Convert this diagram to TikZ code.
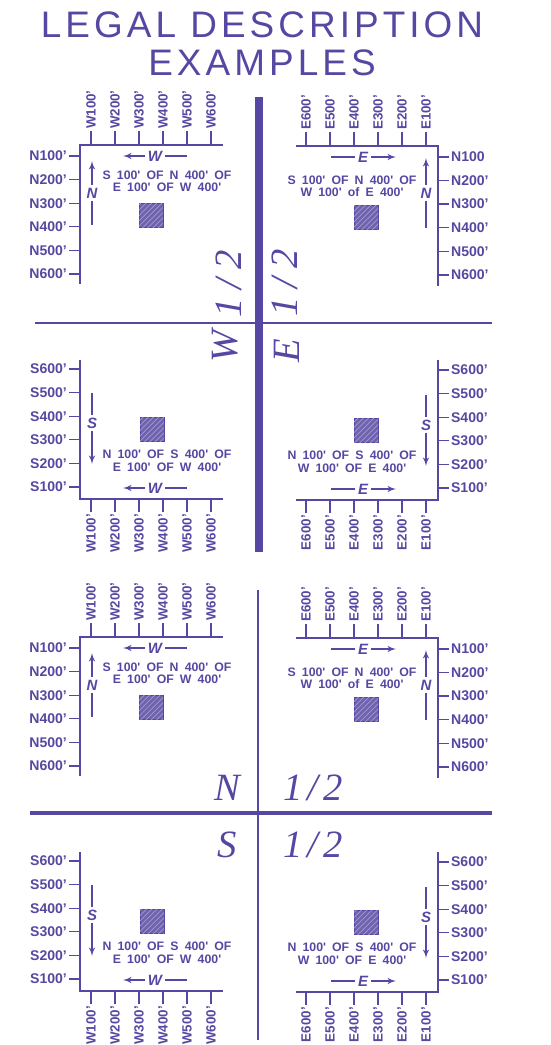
\documentclass[tikz,border=0pt]{standalone}
\usepackage{fontspec}
\setmainfont{Liberation Sans}
\newfontfamily\serifit{Liberation Serif}
\newfontfamily\descfont[WordSpace=1.8]{Liberation Sans}
\newfontfamily\headfont[LetterSpace=11]{Liberation Sans}
\usetikzlibrary{arrows,patterns}
\definecolor{ink}{RGB}{86,72,162}
\tikzset{
    axis/.style = {draw=ink, line width=1pt},
    tick/.style = {draw=ink, line width=0.7pt},
    pointer/.style = {draw=ink, line width=0.7pt, ->, >=latex'},
    uplabel/.style = {
        text=ink,
        font=\bfseries\fontsize{7.6}{7.6}\selectfont,
        rotate=90,
        anchor=west,
        inner sep=1pt,
    },
    downlabel/.style = {uplabel, anchor=east},
    leftlabel/.style = {
        text=ink,
        font=\bfseries\fontsize{8}{8}\selectfont,
        anchor=east,
        inner sep=1pt,
    },
    rightlabel/.style = {leftlabel, anchor=west},
    dirletter/.style = {text=ink, font=\bfseries\itshape\fontsize{8.5}{8.5}\selectfont, inner sep=1.5pt},
    desc/.style = {text=ink, font=\descfont\bfseries\fontsize{7}{7}\selectfont, inner sep=0pt},
    parcel/.style = {
        draw=ink,
        fill=ink!85,
        minimum size=0.48cm,
        inner sep=0pt,
        postaction={pattern=north east lines, pattern color=ink!55},
    },
    half/.style = {text=ink, font=\serifit\itshape\fontsize{22}{22}\selectfont, inner sep=0pt},
    heading/.style = {text=ink, font=\headfont\fontsize{21}{21}\selectfont, inner sep=0pt}
}

\begin{document}
\begin{tikzpicture}[x=0.02cm, y=-0.02cm]
  \useasboundingbox (0,0) rectangle (551,1045);

  % Title
  \node[heading] (title1) at (262,25) {LEGAL DESCRIPTION};
  \node[heading] (title2) at (262,63) {EXAMPLES};

  % The same four corner plats, once above (W/E) and once below (N/S)
  \foreach \h/\dy/\p in {u/0/{}, l/492/'} {
  \begin{scope}[shift={(0,\dy)}]

    % North-west plat
    \coordinate (\h-nw) at (80,145);
    \coordinate (\h-nwr) at (223,145);
    \coordinate (\h-nwb) at (80,284);
    \draw[axis] (\h-nwr) -- (\h-nw) -- (\h-nwb);
    \foreach \n in {1,...,6} {
      \coordinate (\h-nwt\n) at ({67+24*\n},145);
      \node[uplabel] (\h-nwl\n) at ({67+24*\n},131) {W\n00'};
      \draw[tick] (\h-nwt\n) -- (\h-nwl\n);
      \coordinate (\h-nwy\n) at (80,{132.4+23.6*\n});
      \node[leftlabel] (\h-nwm\n) at (69,{132.4+23.6*\n}) {N\n00'};
      \draw[tick] (\h-nwy\n) -- (\h-nwm\n);
    }
    \node[dirletter] (\h-nwW) at (155,156) {W};
    \coordinate (\h-nwWl) at (123,156);
    \coordinate (\h-nwWr) at (187,156);
    \draw[pointer] (\h-nwW) -- (\h-nwWl);
    \draw[tick] (\h-nwW) -- (\h-nwWr);
    \node[dirletter] (\h-nwN) at (92,193) {N};
    \coordinate (\h-nwNt) at (92,161);
    \coordinate (\h-nwNb) at (92,225);
    \draw[pointer] (\h-nwN) -- (\h-nwNt);
    \draw[tick] (\h-nwN) -- (\h-nwNb);
    \node[desc] (\h-nwd1) at (167,175) {S 100' OF N 400' OF};
    \node[desc] (\h-nwd2) at (167,187) {E 100' OF W 400'};
    \node[parcel] (\h-nwp) at (151,215) {};

    % North-east plat
    \coordinate (\h-ne) at (438,146);
    \coordinate (\h-nel) at (296,146);
    \coordinate (\h-neb) at (438,286);
    \draw[axis] (\h-nel) -- (\h-ne) -- (\h-neb);
    \foreach \n in {1,...,6} {
      \coordinate (\h-net\n) at ({450-24*\n},146);
      \node[uplabel] (\h-nelab\n) at ({450-24*\n},132) {E\n00'};
      \draw[tick] (\h-net\n) -- (\h-nelab\n);
      \coordinate (\h-ney\n) at (438,{133.3+23.6*\n});
      \node[rightlabel] (\h-nem\n) at (449,{133.3+23.6*\n}) {N\n00\ifnum\n=1 \p\else'\fi};
      \draw[tick] (\h-ney\n) -- (\h-nem\n);
    }
    \node[dirletter] (\h-neE) at (363,157) {E};
    \coordinate (\h-neEl) at (331,157);
    \coordinate (\h-neEr) at (396,157);
    \draw[tick] (\h-neE) -- (\h-neEl);
    \draw[pointer] (\h-neE) -- (\h-neEr);
    \node[dirletter] (\h-neN) at (426,193) {N};
    \coordinate (\h-neNt) at (426,158);
    \coordinate (\h-neNb) at (426,228);
    \draw[pointer] (\h-neN) -- (\h-neNt);
    \draw[tick] (\h-neN) -- (\h-neNb);
    \node[desc] (\h-ned1) at (352,180) {S 100' OF N 400' OF};
    \node[desc] (\h-ned2) at (352,192) {W 100' of E 400'};
    \node[parcel] (\h-nep) at (366,217) {};

    % South-west plat
    \coordinate (\h-sw) at (80,499);
    \coordinate (\h-swr) at (223,499);
    \coordinate (\h-swt) at (80,360);
    \draw[axis] (\h-swr) -- (\h-sw) -- (\h-swt);
    \foreach \n in {1,...,6} {
      \coordinate (\h-swx\n) at ({67+24*\n},499);
      \node[downlabel] (\h-swl\n) at ({67+24*\n},512) {W\n00'};
      \draw[tick] (\h-swx\n) -- (\h-swl\n);
      \coordinate (\h-swy\n) at (80,{510.6-23.6*\n});
      \node[leftlabel] (\h-swm\n) at (69,{510.6-23.6*\n}) {S\n00'};
      \draw[tick] (\h-swy\n) -- (\h-swm\n);
    }
    \node[dirletter] (\h-swW) at (155,488) {W};
    \coordinate (\h-swWl) at (123,488);
    \coordinate (\h-swWr) at (187,488);
    \draw[pointer] (\h-swW) -- (\h-swWl);
    \draw[tick] (\h-swW) -- (\h-swWr);
    \node[dirletter] (\h-swS) at (92,423) {S};
    \coordinate (\h-swSt) at (92,393);
    \coordinate (\h-swSb) at (92,464);
    \draw[tick] (\h-swS) -- (\h-swSt);
    \draw[pointer] (\h-swS) -- (\h-swSb);
    \node[desc] (\h-swd1) at (167,454) {N 100' OF S 400' OF};
    \node[desc] (\h-swd2) at (167,467) {E 100' OF W 400'};
    \node[parcel] (\h-swp) at (152,429) {};

    % South-east plat
    \coordinate (\h-se) at (438,500);
    \coordinate (\h-sel) at (296,500);
    \coordinate (\h-set) at (438,360);
    \draw[axis] (\h-sel) -- (\h-se) -- (\h-set);
    \foreach \n in {1,...,6} {
      \coordinate (\h-sex\n) at ({450-24*\n},500);
      \node[downlabel] (\h-selab\n) at ({450-24*\n},513) {E\n00'};
      \draw[tick] (\h-sex\n) -- (\h-selab\n);
      \coordinate (\h-sey\n) at (438,{511.6-23.6*\n});
      \node[rightlabel] (\h-sem\n) at (449,{511.6-23.6*\n}) {S\n00'};
      \draw[tick] (\h-sey\n) -- (\h-sem\n);
    }
    \node[dirletter] (\h-seE) at (363,489) {E};
    \coordinate (\h-seEl) at (331,489);
    \coordinate (\h-seEr) at (396,489);
    \draw[tick] (\h-seE) -- (\h-seEl);
    \draw[pointer] (\h-seE) -- (\h-seEr);
    \node[dirletter] (\h-seS) at (426,425) {S};
    \coordinate (\h-seSt) at (426,395);
    \coordinate (\h-seSb) at (426,466);
    \draw[tick] (\h-seS) -- (\h-seSt);
    \draw[pointer] (\h-seS) -- (\h-seSb);
    \node[desc] (\h-sed1) at (352,455) {N 100' OF S 400' OF};
    \node[desc] (\h-sed2) at (352,468) {W 100' OF E 400'};
    \node[parcel] (\h-sep) at (366,430) {};

  \end{scope}
  }

  % West and east halves
  \coordinate (ewtop) at (259,97);
  \coordinate (ewbot) at (259,552);
  \coordinate (ewl) at (35,323);
  \coordinate (ewr) at (492,323);
  \draw[draw=ink, line width=1.1pt] (ewl) -- (ewr);
  \draw[draw=ink, line width=4.5pt] (ewtop) -- (ewbot);
  \node[half, rotate=90] (whalf) at (229,284) {1\kern5pt/\kern5pt2};
  \node[half, rotate=90] (wname) at (225,346) {W};
  \node[half, rotate=90] (ehalf) at (285,283) {1\kern5pt/\kern5pt2};
  \node[half, rotate=90] (ename) at (287,351) {E};

  % North and south halves
  \coordinate (nstop) at (258,590);
  \coordinate (nsbot) at (258,1040);
  \coordinate (nsl) at (30,813);
  \coordinate (nsr) at (492,813);
  \draw[draw=ink, line width=0.9pt] (nstop) -- (nsbot);
  \draw[draw=ink, line width=2pt] (nsl) -- (nsr);
  \node[half] (nname) at (227,788) {N};
  \node[half] (nhalf) at (313,788) {1\kern3pt/\kern3pt2};
  \node[half] (sname) at (227,845) {S};
  \node[half] (shalf) at (313,845) {1\kern3pt/\kern3pt2};

\end{tikzpicture}
\end{document}
